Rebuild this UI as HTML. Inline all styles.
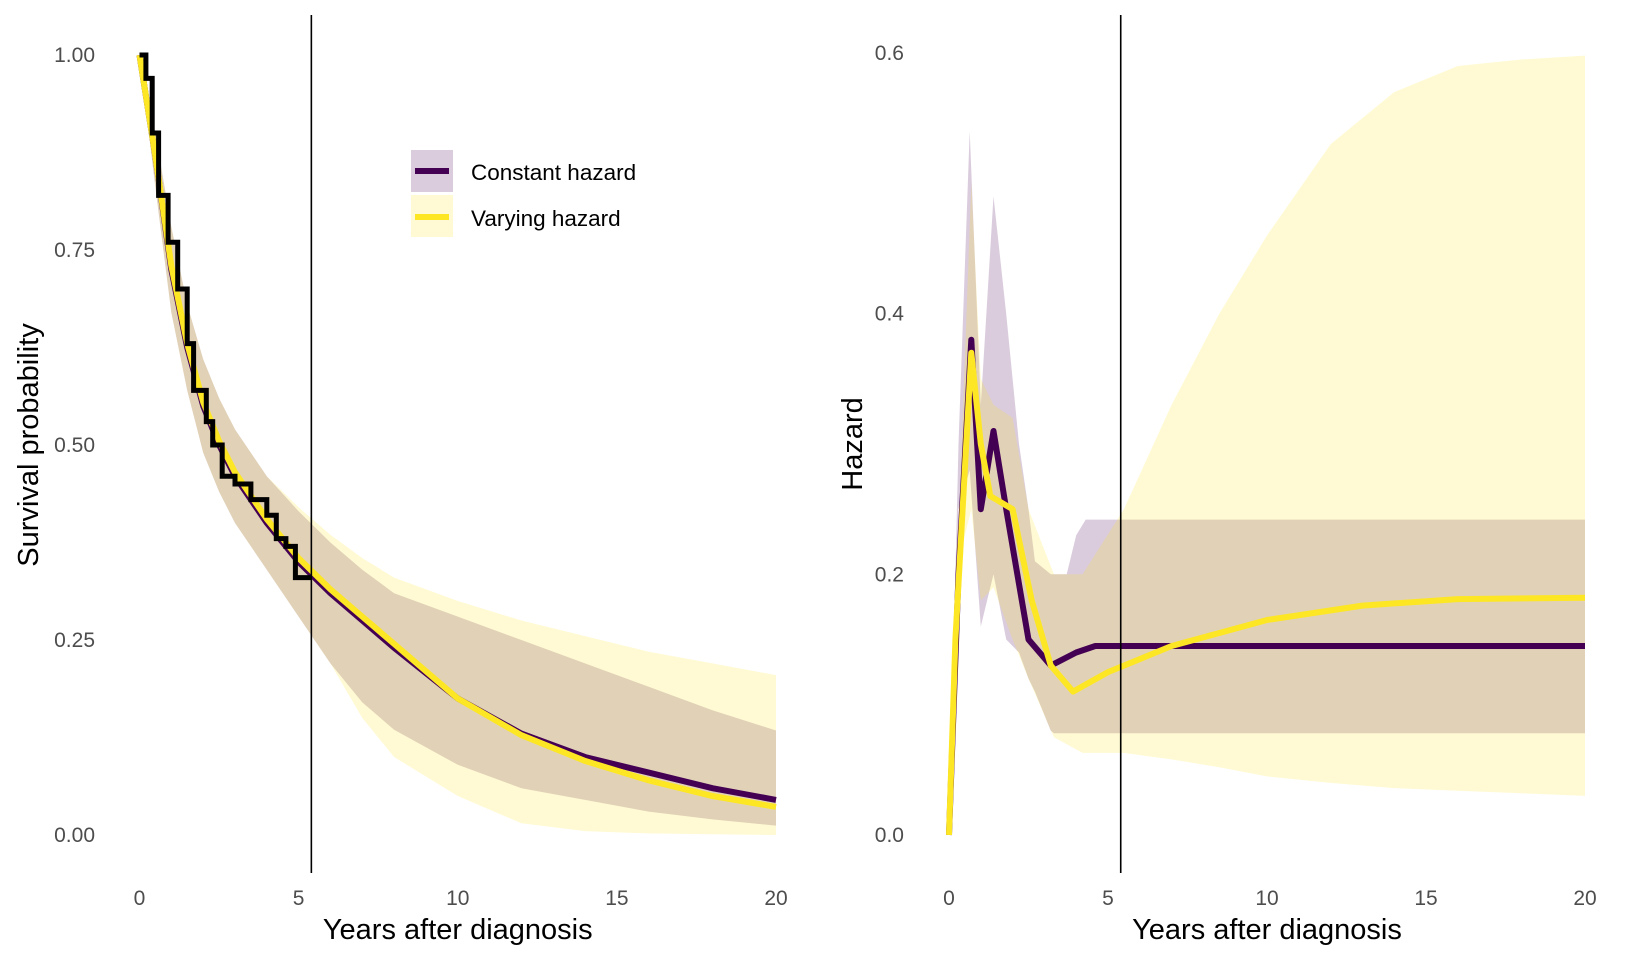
<!DOCTYPE html>
<html><head><meta charset="utf-8">
<style>
html,body{margin:0;padding:0;background:#fff;}
svg{display:block;font-family:"Liberation Sans",Arial,sans-serif;}
</style></head>
<body>
<svg id="chart" width="1632" height="960" viewBox="0 0 1632 960"></svg>
<script>
// ---- Left panel data (survival) ----
const survTimes = [0,0.5,1,1.5,2,2.5,3,4,5,6,7,8,10,12,14,16,18,20];
const survConst = [1,0.87,0.725,0.625,0.55,0.50,0.46,0.40,0.35,0.31,0.275,0.24,0.175,0.13,0.10,0.08,0.06,0.045];
const survVary  = [1,0.87,0.73,0.63,0.555,0.505,0.465,0.405,0.355,0.315,0.28,0.245,0.175,0.128,0.095,0.07,0.05,0.036];
const survConstHi = [1,0.90,0.78,0.68,0.61,0.56,0.52,0.46,0.415,0.375,0.34,0.31,0.28,0.25,0.22,0.19,0.16,0.134];
const survConstLo = [1,0.83,0.67,0.57,0.49,0.44,0.40,0.34,0.28,0.22,0.17,0.135,0.09,0.06,0.045,0.03,0.02,0.012];
const survVaryHi = [1,0.90,0.78,0.68,0.61,0.56,0.52,0.46,0.42,0.385,0.355,0.33,0.30,0.275,0.255,0.235,0.22,0.205];
const survVaryLo = [1,0.83,0.67,0.57,0.49,0.44,0.40,0.34,0.28,0.22,0.15,0.10,0.05,0.015,0.005,0.002,0.001,0.0];
const kmTimes = [0,0.2,0.4,0.6,0.9,1.2,1.5,1.7,2.1,2.3,2.6,3.0,3.5,4.0,4.3,4.6,4.9,5.4];
const kmSurv  = [1,0.97,0.90,0.82,0.76,0.70,0.63,0.57,0.53,0.50,0.46,0.45,0.43,0.41,0.38,0.37,0.33,0.33];
const survTicks = [0,0.25,0.5,0.75,1.0];
const survTickLabels = ["0.00","0.25","0.50","0.75","1.00"];
// ---- Right panel data (hazard) ----
const hzConstT = [0,0.3,0.7,1.0,1.4,1.8,2.5,3.2,4.0,4.6,20];
const hzConst  = [0,0.2,0.38,0.25,0.31,0.25,0.15,0.13,0.14,0.145,0.145];
const hzVaryT = [0,0.2,0.7,1.0,1.3,2.0,2.6,3.2,3.9,5,7,10,13,16,20];
const hzVary  = [0,0.15,0.37,0.30,0.26,0.25,0.18,0.13,0.11,0.125,0.145,0.165,0.176,0.181,0.182];
const hzCBandT = [0,0.3,0.65,1.0,1.4,1.8,2.2,2.5,2.7,3.2,3.3,3.7,4.0,4.3,20];
const hzCHi = [0,0.3,0.54,0.33,0.49,0.40,0.30,0.25,0.21,0.20,0.20,0.20,0.23,0.242,0.242];
const hzCLo = [0,0.25,0.28,0.16,0.20,0.15,0.14,0.12,0.11,0.08,0.078,0.078,0.078,0.078,0.078];
const hzVBandT = [0,0.4,0.7,1.0,1.4,2.0,2.5,3.3,4.2,5.5,7,8.5,10,12,14,16,18,20];
const hzVHi = [0,0.3,0.5,0.35,0.33,0.32,0.25,0.20,0.20,0.25,0.33,0.40,0.46,0.53,0.57,0.59,0.595,0.598];
const hzVLo = [0,0.22,0.25,0.18,0.19,0.15,0.12,0.075,0.063,0.063,0.058,0.052,0.045,0.04,0.036,0.034,0.032,0.03];
const hzTicks = [0,0.2,0.4,0.6];
const hzTickLabels = ["0.0","0.2","0.4","0.6"];
const xTicks = [0,5,10,15,20];
const xTickLabels = ["0","5","10","15","20"];

const NS="http://www.w3.org/2000/svg";
const svg=document.getElementById('chart');
function mk(tag,attrs,parent){const e=document.createElementNS(NS,tag);for(const k in attrs)e.setAttribute(k,attrs[k]);(parent||svg).appendChild(e);return e;}
const PURPLE="#440154", YELLOW="#FDE725";
const Y0=835;

function panel(name,x0,x1,yTop,yMax){
  const sx=v=>x0+(x1-x0)*v/20;
  const sy=v=>Y0-(Y0-yTop)*v/yMax;
  const g=mk('g',{});
  
  
  return {sx,sy,g};
}
function linePath(P,ts,vs){return ts.map((t,i)=>(i?'L':'M')+P.sx(t).toFixed(1)+','+P.sy(vs[i]).toFixed(1)).join(' ');}
function bandPath(P,ts,hi,lo){let d=linePath(P,ts,hi);for(let i=ts.length-1;i>=0;i--)d+=' L'+P.sx(ts[i]).toFixed(1)+','+P.sy(lo[i]).toFixed(1);return d+' Z';}
function axes(P,ticks,labels,labelRight,titleText,titleX,vx){
  ticks.forEach((t,i)=>{const e=mk('text',{x:labelRight,y:P.sy(t)+7,'text-anchor':'end','font-size':21,fill:'#4d4d4d'},P.g);e.textContent=labels[i];
    
    });
  xTicks.forEach((t,i)=>{const e=mk('text',{x:P.sx(t),y:905,'text-anchor':'middle','font-size':21,fill:'#4d4d4d'},P.g);e.textContent=xTickLabels[i];
    
    });
  const xt=mk('text',{x:P.sx(10),y:939,'text-anchor':'middle','font-size':29,fill:'#000'},P.g);xt.textContent='Years after diagnosis';
  
  
  const cy=P.sy(ticks[ticks.length-1]/2);
  const yt=mk('text',{x:titleX,y:cy,'text-anchor':'middle','font-size':29,fill:'#000',transform:`rotate(-90 ${titleX} ${cy})`},P.g);yt.textContent=titleText;
  
  
  const vl=mk('line',{x1:P.sx(vx),x2:P.sx(vx),y1:15,y2:873,stroke:'#000','stroke-width':1.6},P.g);
  
  
}

// Left panel
const L=panel('survival-panel',139.5,776,55,1.0);
let e;
e=mk('path',{d:bandPath(L,survTimes,survConstHi,survConstLo),fill:PURPLE,'fill-opacity':0.2},L.g);


e=mk('path',{d:bandPath(L,survTimes,survVaryHi,survVaryLo),fill:YELLOW,'fill-opacity':0.2},L.g);


e=mk('path',{d:linePath(L,survTimes,survConst),fill:'none',stroke:PURPLE,'stroke-width':6},L.g);


e=mk('path',{d:linePath(L,survTimes,survVary),fill:'none',stroke:YELLOW,'stroke-width':6},L.g);


let kd='M'+L.sx(kmTimes[0])+','+L.sy(kmSurv[0]);
for(let i=1;i<kmTimes.length;i++){kd+=' L'+L.sx(kmTimes[i]).toFixed(1)+','+L.sy(kmSurv[i-1]).toFixed(1)+' L'+L.sx(kmTimes[i]).toFixed(1)+','+L.sy(kmSurv[i]).toFixed(1);}
e=mk('path',{d:kd,fill:'none',stroke:'#000','stroke-width':5},L.g);


axes(L,survTicks,survTickLabels,95,'Survival probability',38,5.4);

// Legend
const lg=mk('g',{});


e=mk('rect',{x:411,y:150,width:42,height:42,fill:PURPLE,'fill-opacity':0.2},lg);


mk('line',{x1:415,x2:449,y1:171,y2:171,stroke:PURPLE,'stroke-width':6},lg);
e=mk('rect',{x:411,y:195,width:42,height:42,fill:YELLOW,'fill-opacity':0.2},lg);


mk('line',{x1:415,x2:449,y1:217,y2:217,stroke:YELLOW,'stroke-width':6},lg);
e=mk('text',{x:471,y:180,'font-size':22.5,fill:'#000'},lg);e.textContent='Constant hazard';


e=mk('text',{x:471,y:226,'font-size':22.5,fill:'#000'},lg);e.textContent='Varying hazard';



// Right panel
const R=panel('hazard-panel',949,1585,53,0.6);
e=mk('path',{d:bandPath(R,hzCBandT,hzCHi,hzCLo),fill:PURPLE,'fill-opacity':0.2},R.g);


e=mk('path',{d:bandPath(R,hzVBandT,hzVHi,hzVLo),fill:YELLOW,'fill-opacity':0.2},R.g);


e=mk('path',{d:linePath(R,hzConstT,hzConst),fill:'none',stroke:PURPLE,'stroke-width':6,'stroke-linejoin':'round'},R.g);


e=mk('path',{d:linePath(R,hzVaryT,hzVary),fill:'none',stroke:YELLOW,'stroke-width':6,'stroke-linejoin':'round'},R.g);


axes(R,hzTicks,hzTickLabels,904,'Hazard',862,5.4);
</script>
</body></html>
